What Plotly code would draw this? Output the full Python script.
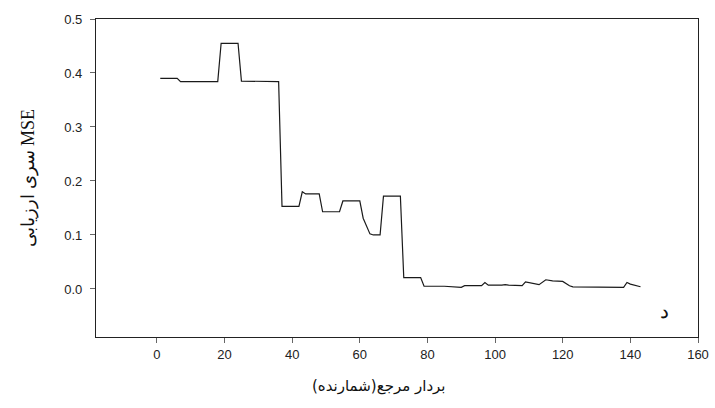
import plotly.graph_objects as go

# Vertices of the MSE curve
x_vals = [1, 6, 7, 18, 19, 24, 25, 30, 31, 36, 37, 42, 43, 44, 48, 49, 54, 55, 60, 61,
          63, 64, 66, 67, 72, 73, 78, 79, 85, 90, 91, 96, 97, 98, 102, 103, 104, 108,
          109, 113, 115, 117, 120, 122, 123, 138, 139, 140, 143]
y_vals = [0.390, 0.390, 0.384, 0.384, 0.455, 0.455, 0.385, 0.385, 0.384, 0.384,
          0.153, 0.153, 0.180, 0.176, 0.176, 0.143, 0.143, 0.163, 0.163, 0.131,
          0.102, 0.100, 0.100, 0.172, 0.172, 0.021, 0.021, 0.005, 0.005, 0.003,
          0.006, 0.006, 0.012, 0.007, 0.007, 0.008, 0.007, 0.006, 0.013, 0.008,
          0.017, 0.015, 0.014, 0.006, 0.004, 0.003, 0.012, 0.009, 0.004]

x_ticks = [0, 20, 40, 60, 80, 100, 120, 140, 160]
y_ticks = [0.0, 0.1, 0.2, 0.3, 0.4, 0.5]

x_title = "بردار مرجع(شمارنده)"
y_title = "سری ارزیابی MSE"
panel_label = "د"

fig = go.Figure()
fig.add_trace(go.Scatter(x=x_vals, y=y_vals, mode="lines",
                         line=dict(color="#1a1a1a", width=1.2),
                         showlegend=False, hoverinfo="skip"))

axis_common = dict(showgrid=False, zeroline=False, showline=True, linecolor="#222",
                   linewidth=1.2, mirror=True, ticks="outside", ticklen=5,
                   tickcolor="#666", tickwidth=1.2, automargin=False,
                   tickfont=dict(family="Liberation Sans, Arial", size=13, color="#222"))

fig.update_xaxes(range=[-18, 160], tickvals=x_ticks, ticktext=[str(v) for v in x_ticks],
                 **axis_common)
fig.update_yaxes(range=[-0.089, 0.5], tickvals=y_ticks,
                 ticktext=[f"{v:.1f}" for v in y_ticks], ticklabelstandoff=5,
                 **axis_common)

fig.add_annotation(text=y_title, xref="paper", yref="paper", x=-0.113, y=0.5,
                   textangle=-90, showarrow=False, xanchor="center", yanchor="middle",
                   font=dict(family="Liberation Serif, DejaVu Serif, serif", size=18, color="#111"))
fig.add_annotation(text=x_title, xref="paper", yref="paper", x=0.47, y=-0.155,
                   showarrow=False, xanchor="center", yanchor="middle",
                   font=dict(family="DejaVu Sans, sans-serif", size=15, color="#111"))
fig.add_annotation(text=panel_label, x=150, y=-0.041, xref="x", yref="y",
                   showarrow=False,
                   font=dict(family="Liberation Serif, DejaVu Serif, serif", size=20, color="#111"))

fig.update_layout(template="none", width=715, height=408,
                  margin=dict(l=96, r=17, t=19, b=71, autoexpand=False),
                  paper_bgcolor="white", plot_bgcolor="white")

fig.write_html("out.html")
